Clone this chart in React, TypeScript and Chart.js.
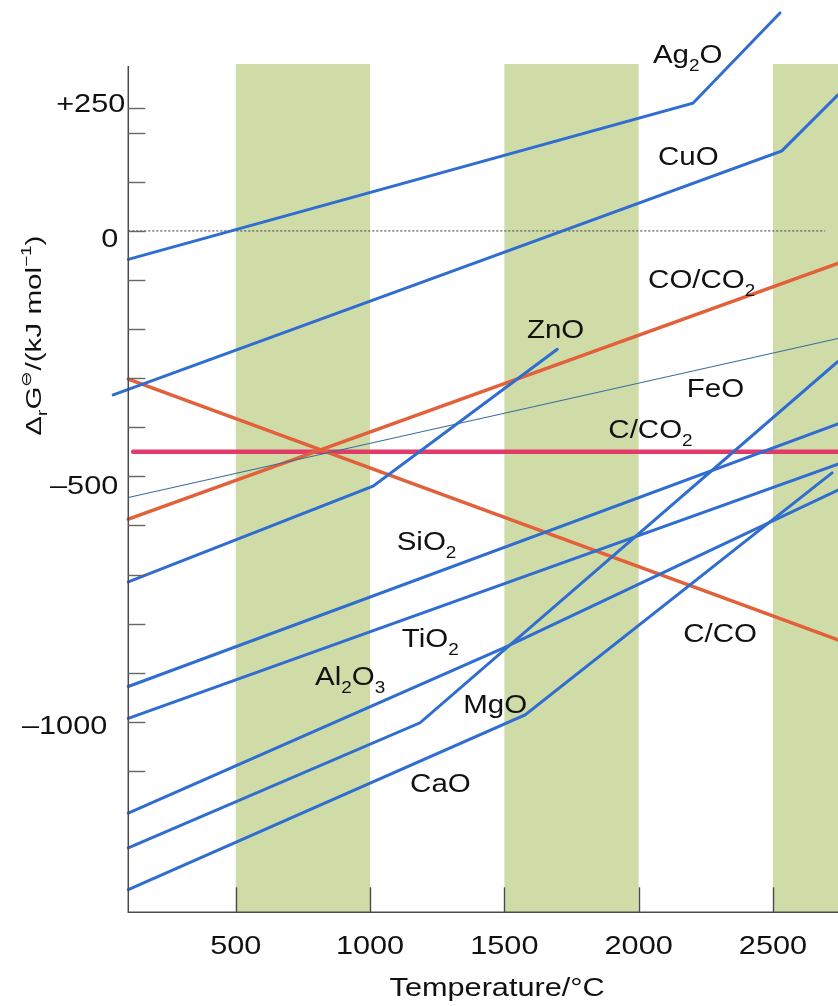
import { useEffect, useRef } from "react";
import { Chart, registerables } from "chart.js";

Chart.register(...registerables);

// ---------- axis ranges & ticks ----------
const X_MIN = 100;
const X_MAX = 2742;
const Y_MIN = -1388;
const Y_MAX = 340;

const X_TICKS = [500, 1000, 1500, 2000, 2500];
const X_TICK_LABELS = ["500", "1000", "1500", "2000", "2500"];
const Y_TICKS = [250, 200, 100, 0, -100, -200, -300, -400, -500, -600, -700, -800, -900, -1000, -1100];
const Y_LABEL_VALUES = [250, 0, -500, -1000];
const Y_TICK_LABELS = ["+250", "0", "\u2013500", "\u20131000"];

// shaded temperature bands (°C)
const BAND_STARTS = [500, 1500, 2500];
const BAND_ENDS = [1000, 2000, 3000];

// ---------- series (temperature °C, ΔG kJ/mol) ----------
const AG2O_T = [100, 2202, 2526];
const AG2O_G = [-58, 260, 444];
const CUO_T = [44, 2533, 2742];
const CUO_G = [-334, 163, 277];
const ZNO_T = [100, 1011, 1697];
const ZNO_G = [-715, -520, -241];
const FEO_T = [100, 2742];
const FEO_G = [-543, -219];
const SIO2_T = [100, 2742];
const SIO2_G = [-928, -393];
const TIO2_T = [100, 2742];
const TIO2_G = [-993, -475];
const AL2O3_T = [100, 1496, 2742];
const AL2O3_G = [-1186, -850, -528];
const MGO_T = [100, 1186, 2742];
const MGO_G = [-1257, -1002, -266];
const CAO_T = [100, 1577, 2720];
const CAO_G = [-1342, -986, -493];
const COCO2_T = [100, 2742];
const COCO2_G = [-587, -66];
const CCO_T = [100, 2742];
const CCO_G = [-302, -833];
const CCO2_T = [118, 2742];
const CCO2_G = [-450, -450];
const ZERO_T = [100, 2694];
const ZERO_G = [0, 0];

// ---------- labels (segments: 0 normal, 1 subscript, 2 superscript) ----------
type Seg = [string, number];
const LABEL_SEGS: Seg[][] = [
  [["Ag", 0], ["2", 1], ["O", 0]],
  [["CuO", 0]],
  [["CO/CO", 0], ["2", 1]],
  [["ZnO", 0]],
  [["FeO", 0]],
  [["C/CO", 0], ["2", 1]],
  [["SiO", 0], ["2", 1]],
  [["TiO", 0], ["2", 1]],
  [["Al", 0], ["2", 1], ["O", 0], ["3", 1]],
  [["MgO", 0]],
  [["CaO", 0]],
  [["C/CO", 0]],
];
const LABEL_T = [2053, 2072, 2035, 1584, 2179, 1887, 1099, 1118, 795, 1347, 1149, 2166];
const LABEL_G = [342, 134, -117, -218, -338, -422, -650, -847, -925, -982, -1142, -837];

const Y_TITLE: Seg[] = [["Δ", 0], ["r", 1], ["G", 0], ["⊖", 2], ["/(kJ mol", 0], ["−1", 2], [")", 0]];
const X_TITLE = "Temperature/°C";

// ---------- styles ----------
const FONT = '"Liberation Sans", Arial, Helvetica, sans-serif';
const SX = 1.18;
const BLUE = "#2f6dd0";
const RED = "#e2603a";
const MAGENTA = "#e03c6a";
const FEO_COLOR = "#3a6b9c";
const BAND_COLOR = "#d0dca8";
const AXIS_COLOR = "#4a4a4a";
// per-label nudges of the hand-set y tick labels (px)
const Y_LABEL_DX = [7, 0, 0, -11];
const Y_LABEL_DY = [-9, 3, 5, -1];

const pts = (t: number[], g: number[]) => t.map((v, i) => ({ x: v, y: g[i] }));

function segWidth(ctx: CanvasRenderingContext2D, segs: Seg[], size: number, small: number) {
  let w = 0;
  for (const [t, k] of segs) {
    ctx.font = `${k === 0 ? size : small}px ${FONT}`;
    w += ctx.measureText(t).width;
  }
  return w;
}

function drawSegs(
  ctx: CanvasRenderingContext2D,
  segs: Seg[],
  x0: number,
  baseline: number,
  size: number,
  small: number,
  subDy: number,
  supDy: number
) {
  let cx = x0;
  ctx.textAlign = "left";
  ctx.textBaseline = "alphabetic";
  for (const [t, k] of segs) {
    ctx.font = `${k === 0 ? size : small}px ${FONT}`;
    const dy = k === 1 ? subDy : k === 2 ? supDy : 0;
    ctx.fillText(t, cx, baseline + dy);
    cx += ctx.measureText(t).width;
  }
}

const decorPlugin = {
  id: "decor",
  beforeDatasetsDraw(chart: any) {
    const { ctx, scales } = chart;
    const x = scales.x;
    const y = scales.y;
    const top = y.getPixelForValue(Y_MAX);
    const bottom = y.getPixelForValue(Y_MIN);
    ctx.save();
    ctx.fillStyle = BAND_COLOR;
    for (let i = 0; i < BAND_STARTS.length; i++) {
      const a = x.getPixelForValue(BAND_STARTS[i]);
      const b = Math.min(x.getPixelForValue(BAND_ENDS[i]), chart.width);
      ctx.fillRect(a, top, b - a, bottom - top);
    }
    ctx.restore();
  },
  afterDatasetsDraw(chart: any) {
    const { ctx, scales } = chart;
    const x = scales.x;
    const y = scales.y;
    const left = x.getPixelForValue(X_MIN);
    const right = chart.width;
    const top = y.getPixelForValue(Y_MAX);
    const bottom = y.getPixelForValue(Y_MIN);
    ctx.save();
    // axes lines
    ctx.strokeStyle = AXIS_COLOR;
    ctx.lineWidth = 1.5;
    ctx.beginPath();
    ctx.moveTo(left, top + 2);
    ctx.lineTo(left, bottom);
    ctx.lineTo(right, bottom);
    ctx.stroke();
    // y ticks (inside)
    ctx.strokeStyle = "#666";
    ctx.lineWidth = 1.4;
    for (const v of Y_TICKS) {
      const py = Math.round(y.getPixelForValue(v)) + 0.5;
      ctx.beginPath();
      ctx.moveTo(left, py);
      ctx.lineTo(left + 17, py);
      ctx.stroke();
    }
    // x ticks (inside)
    ctx.strokeStyle = AXIS_COLOR;
    for (const v of X_TICKS) {
      const px = Math.round(x.getPixelForValue(v)) + 0.5;
      ctx.beginPath();
      ctx.moveTo(px, bottom);
      ctx.lineTo(px, bottom - 25);
      ctx.stroke();
    }
    ctx.fillStyle = "#111";
    // y tick labels
    ctx.font = `26px ${FONT}`;
    ctx.textBaseline = "alphabetic";
    for (let i = 0; i < Y_LABEL_VALUES.length; i++) {
      const py = y.getPixelForValue(Y_LABEL_VALUES[i]);
      ctx.save();
      ctx.translate(left - 10 + Y_LABEL_DX[i], py + 13 + Y_LABEL_DY[i]);
      ctx.scale(SX, 1);
      ctx.textAlign = "right";
      ctx.fillText(Y_TICK_LABELS[i], 0, 0);
      ctx.restore();
    }
    // x tick labels
    for (let i = 0; i < X_TICKS.length; i++) {
      const px = x.getPixelForValue(X_TICKS[i]);
      ctx.save();
      ctx.translate(px, bottom + 42);
      ctx.scale(SX, 1);
      ctx.textAlign = "center";
      ctx.fillText(X_TICK_LABELS[i], 0, 0);
      ctx.restore();
    }
    // x title
    ctx.save();
    ctx.translate((left + right) / 2 + 14, bottom + 84);
    ctx.scale(SX, 1);
    ctx.textAlign = "center";
    ctx.font = `26px ${FONT}`;
    ctx.fillText(X_TITLE, 0, 0);
    ctx.restore();
    // y title (rotated)
    ctx.save();
    ctx.translate(33, (top + y.getPixelForValue(-400)) / 2 + 90);
    ctx.rotate(-Math.PI / 2);
    const tw = segWidth(ctx, Y_TITLE, 22, 14);
    ctx.scale(200 / tw, 1);
    drawSegs(ctx, Y_TITLE, -tw / 2, 8, 22, 14, 6, -10);
    ctx.restore();
    // series labels
    for (let i = 0; i < LABEL_SEGS.length; i++) {
      const px = x.getPixelForValue(LABEL_T[i]);
      const py = y.getPixelForValue(LABEL_G[i]);
      ctx.save();
      ctx.translate(px, py);
      ctx.scale(SX, 1);
      drawSegs(ctx, LABEL_SEGS[i], 0, 0, 25, 16, 8, -10);
      ctx.restore();
    }
    ctx.restore();
  },
};

export default function App() {
  const ref = useRef<HTMLCanvasElement | null>(null);
  useEffect(() => {
    if (!ref.current) return;
    const line = (t: number[], g: number[], color: string, width: number, extra: any = {}) => ({
      data: pts(t, g),
      borderColor: color,
      backgroundColor: color,
      borderWidth: width,
      pointRadius: 0,
      tension: 0,
      fill: false,
      clip: false,
      borderCapStyle: "round",
      ...extra,
    });
    const chart = new Chart(ref.current, {
      type: "line",
      data: {
        datasets: [
          line(AG2O_T, AG2O_G, BLUE, 3),
          line(CUO_T, CUO_G, BLUE, 3),
          line(ZNO_T, ZNO_G, BLUE, 3),
          line(SIO2_T, SIO2_G, BLUE, 3),
          line(TIO2_T, TIO2_G, BLUE, 3),
          line(AL2O3_T, AL2O3_G, BLUE, 3),
          line(MGO_T, MGO_G, BLUE, 3),
          line(CAO_T, CAO_G, BLUE, 3),
          line(FEO_T, FEO_G, FEO_COLOR, 1.1),
          line(COCO2_T, COCO2_G, RED, 3.5),
          line(CCO_T, CCO_G, RED, 3.5),
          line(CCO2_T, CCO2_G, MAGENTA, 4.5),
          line(ZERO_T, ZERO_G, "#555", 1.2, { borderDash: [2, 2], borderCapStyle: "butt" }),
        ] as any,
      },
      options: {
        responsive: false,
        animation: false,
        devicePixelRatio: 1,
        layout: { padding: { left: 128.3, right: 0, top: 64, bottom: 93.7 } },
        scales: {
          x: { type: "linear", min: X_MIN, max: X_MAX, display: false },
          y: { type: "linear", min: Y_MIN, max: Y_MAX, display: false },
        },
        plugins: { legend: { display: false }, tooltip: { enabled: false } },
        events: [],
      } as any,
      plugins: [decorPlugin],
    });
    return () => chart.destroy();
  }, []);
  return (
    <div style={{ position: "fixed", left: 0, top: 0, width: 838, height: 1006, background: "#fff" }}>
      <canvas ref={ref} width={838} height={1006} style={{ display: "block" }} />
    </div>
  );
}
